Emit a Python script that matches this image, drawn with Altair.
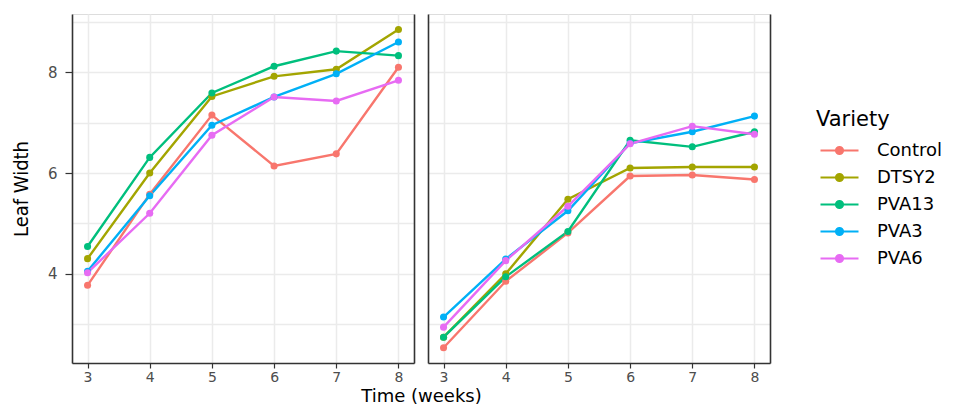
import altair as alt
import pandas as pd

weeks = [3, 4, 5, 6, 7, 8]
varieties = ["Control", "DTSY2", "PVA13", "PVA3", "PVA6"]
palette = ["#F8766D", "#A3A500", "#00BF7D", "#00B0F6", "#E76BF3"]

# left panel
left_control = [3.77, 5.58, 7.15, 6.14, 6.38, 8.10]
left_dtsy2 = [4.30, 6.00, 7.52, 7.92, 8.06, 8.85]
left_pva13 = [4.54, 6.31, 7.59, 8.12, 8.42, 8.33]
left_pva3 = [4.05, 5.55, 6.95, 7.51, 7.97, 8.60]
left_pva6 = [4.02, 5.20, 6.75, 7.51, 7.43, 7.84]

# right panel
right_control = [2.53, 3.85, 4.81, 5.94, 5.96, 5.87]
right_dtsy2 = [2.74, 4.00, 5.48, 6.10, 6.12, 6.12]
right_pva13 = [2.74, 3.94, 4.84, 6.65, 6.52, 6.82]
right_pva3 = [3.14, 4.29, 5.25, 6.59, 6.82, 7.13]
right_pva6 = [2.94, 4.26, 5.34, 6.58, 6.93, 6.77]


def frame(series):
    rows = []
    for name, vals in zip(varieties, series):
        for w, v in zip(weeks, vals):
            rows.append({"Time": w, "Width": v, "Variety": name})
    return pd.DataFrame(rows)


df_left = frame([left_control, left_dtsy2, left_pva13, left_pva3, left_pva6])
df_right = frame([right_control, right_dtsy2, right_pva13, right_pva3, right_pva6])

x_scale = alt.Scale(domain=[2.75, 8.25], nice=False, zero=False)
y_scale = alt.Scale(domain=[2.228, 9.157], nice=False, zero=False)

grid_color = {"condition": {"test": "datum.value % 1 !== 0", "value": "#F0F0F0"}, "value": "#EBEBEB"}
grid_w = {"condition": {"test": "datum.value % 1 !== 0", "value": 1.0}, "value": 1.5}
x_tick_color = {"condition": {"test": "datum.value % 1 !== 0", "value": "transparent"}, "value": "#333333"}
y_tick_color = {"condition": {"test": "datum.value % 2 !== 0", "value": "transparent"}, "value": "#333333"}

x_values = [3, 3.5, 4, 4.5, 5, 5.5, 6, 6.5, 7, 7.5, 8]
y_values = [3, 4, 5, 6, 7, 8, 9]

sym_path = "M-0.7,0L3.1,0M0.85,0A0.35,0.35,0,1,0,1.55,0A0.35,0.35,0,1,0,0.85,0Z"
legend = alt.Legend(
    title="Variety",
    orient="none",
    legendX=744,
    legendY=95,
    symbolType=sym_path,
    symbolSize=400,
    symbolStrokeWidth=2.2,
    labelOffset=38,
    rowPadding=6,
    titlePadding=9,
    titleFont="DejaVu Sans",
    titleFontSize=21,
    titleFontWeight="normal",
    titleColor="#000000",
    labelFont="DejaVu Sans",
    labelFontSize=18,
    labelColor="#000000",
)
color = alt.Color("Variety:N", scale=alt.Scale(domain=varieties, range=palette), legend=legend)


def x_axis(title, with_title):
    kw = dict(
        values=x_values,
        format="d",
        labelExpr="datum.value % 1 === 0 ? datum.label : ''",
        tickColor=x_tick_color,
        tickSize=5,
        tickWidth=1.2,
        gridColor=grid_color,
        gridWidth=grid_w,
        domainColor="#333333",
        domainWidth=1.6,
        labelFont="DejaVu Sans",
        labelFontSize=14,
        labelColor="#4D4D4D",
        labelPadding=2,
    )
    if with_title:
        kw.update(title=title, titleX=349, titleFont="DejaVu Sans", titleFontSize=18,
                  titleFontWeight="normal", titleColor="#000000", titlePadding=3)
    else:
        kw.update(title=None)
    return alt.Axis(**kw)


def y_axis_left(show_labels):
    kw = dict(
        values=y_values,
        gridColor=grid_color,
        gridWidth=grid_w,
        domainColor="#333333",
        domainWidth=1.6,
    )
    if show_labels:
        kw.update(
            title="Leaf Width",
            labelExpr="datum.value % 2 === 0 ? datum.label : ''",
            tickColor=y_tick_color,
            tickSize=7,
            tickWidth=1.2,
            labelFont="DejaVu Sans",
            labelFontSize=15,
            labelColor="#4D4D4D",
            labelPadding=8,
            titleFont="DejaVu Sans Condensed",
            titleFontSize=20,
            titleFontWeight="normal",
            titleColor="#000000",
            titlePadding=16,
        )
    else:
        kw.update(title=None, labels=False, ticks=False)
    return alt.Axis(**kw)


y_axis_right = alt.Axis(orient="right", labels=False, ticks=False, grid=False, title=None,
                        domainColor="#333333", domainWidth=1.6)


def panel(df, first):
    base = alt.Chart(df)
    lines = base.mark_line(strokeWidth=2.4).encode(
        x=alt.X("Time:Q", scale=x_scale, axis=x_axis("Time (weeks)", first)),
        y=alt.Y("Width:Q", scale=y_scale, axis=y_axis_left(first)),
        color=color,
    )
    points = base.mark_point(filled=True, size=50, opacity=1).encode(
        x=alt.X("Time:Q", scale=x_scale),
        y=alt.Y("Width:Q", scale=y_scale, axis=y_axis_right),
        color=color,
    )
    return alt.layer(lines, points).resolve_axis(y="independent").properties(width=342, height=349)


chart = alt.hconcat(
    panel(df_left, True), panel(df_right, False), spacing=14, bounds="flush"
).properties(
    padding={"left": 2, "top": 5, "right": 5, "bottom": 0}
).configure_view(stroke=None).configure(background="white")

chart.save("out.html", embed_options={"renderer": "svg", "actions": False})
